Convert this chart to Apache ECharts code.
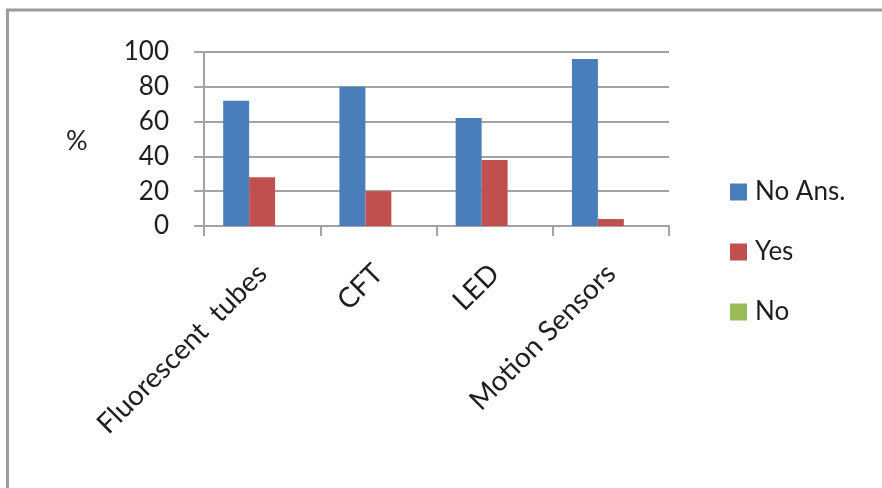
<!DOCTYPE html>
<html>
<head>
<meta charset="utf-8">
<script src="https://cdn.jsdelivr.net/npm/echarts@6/dist/echarts.min.js"></script>
<style>
  html, body { margin: 0; padding: 0; background: #fff; }
  #chart { width: 882px; height: 488px; }
</style>
</head>
<body>
<div id="chart"></div>
<script>
// Lighting technologies surveyed and the share of answers per response
const categories = ['Fluorescent  tubes', 'CFT', 'LED', 'Motion Sensors'];
const noAnswer = [72, 80, 62, 96];
const yes = [28, 20, 38, 4];
const no = [0, 0, 0, 0];
const yTicks = { min: 0, max: 100, interval: 20 };
const yUnit = '%';

const FONT = 'Lato, "Open Sans", sans-serif';
const TEXT = '#1f1f1f';
const GRID_GRAY = '#a3a3a3';

const chart = echarts.init(document.getElementById('chart'), null, { renderer: 'canvas' });

chart.setOption({
  animation: false,
  backgroundColor: '#ffffff',
  textStyle: { fontFamily: FONT, color: TEXT },
  color: ['#4a7ebb', '#c0504d', '#9bbb59'],
  grid: { left: 204, right: 213, top: 52, bottom: 262 },
  legend: {
    orient: 'vertical',
    left: 725,
    top: 172,
    itemWidth: 17,
    itemHeight: 17,
    itemGap: 30,
    icon: 'rect',
    textStyle: { fontFamily: FONT, fontSize: 26, color: TEXT, lineHeight: 30, padding: [0, 0, 0, 3] },
    data: ['No Ans.', 'Yes', 'No']
  },
  xAxis: {
    type: 'category',
    data: categories,
    axisLine: { lineStyle: { color: GRID_GRAY, width: 2 } },
    axisTick: { show: true, interval: 0, length: 10, lineStyle: { color: GRID_GRAY, width: 2 } },
    axisLabel: {
      rotate: 45,
      margin: 43,
      fontFamily: FONT,
      fontSize: 28,
      color: TEXT,
      interval: 0
    }
  },
  yAxis: {
    type: 'value',
    min: yTicks.min,
    max: yTicks.max,
    interval: yTicks.interval,
    axisLine: { show: true, lineStyle: { color: GRID_GRAY, width: 2 } },
    axisTick: { show: true, length: 10, lineStyle: { color: GRID_GRAY, width: 2 } },
    splitLine: { show: true, lineStyle: { color: GRID_GRAY, width: 2 } },
    axisLabel: { margin: 35, fontFamily: FONT, fontSize: 26, color: TEXT }
  },
  graphic: [
    {
      type: 'rect',
      shape: { x: 7.5, y: 10, width: 900, height: 500 },
      style: { fill: 'none', stroke: '#9c9c9c', lineWidth: 3 },
      silent: true
    },
    {
      type: 'text',
      left: 66,
      top: 128,
      style: { text: yUnit, fontFamily: FONT, fontSize: 27, fill: TEXT }
    }
  ],
  series: [
    { name: 'No Ans.', type: 'bar', data: noAnswer, barGap: '0%', barCategoryGap: '33%' },
    { name: 'Yes', type: 'bar', data: yes, barGap: '0%', barCategoryGap: '33%' },
    { name: 'No', type: 'bar', data: no, barGap: '0%', barCategoryGap: '33%' }
  ]
});
</script>
</body>
</html>
